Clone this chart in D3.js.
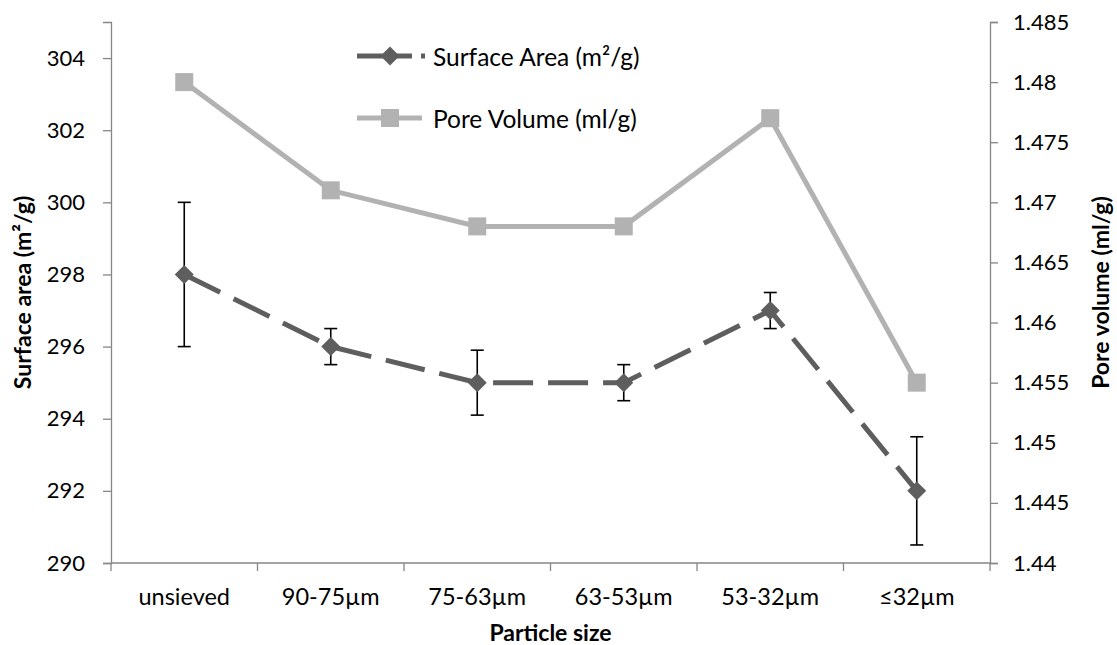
<!DOCTYPE html>
<html>
<head>
<meta charset="utf-8">
<script src="https://cdn.jsdelivr.net/npm/d3@7"></script>
<style>
  html, body { margin: 0; padding: 0; background: #fff; }
  svg text { font-family: Lato, "Open Sans", sans-serif; fill: #000; }
</style>
</head>
<body>
<svg id="chart" width="1117" height="645"></svg>
<script>
// Particle size fractions
const categories = ["unsieved", "90-75\u00b5m", "75-63\u00b5m", "63-53\u00b5m", "53-32\u00b5m", "\u226432\u00b5m"];
// BET surface area (m²/g) with error bar half-widths
const surfaceArea = [298, 296, 295, 295, 297, 292];
const surfaceAreaErr = [2, 0.5, 0.9, 0.5, 0.5, 1.5];
// Pore volume (ml/g)
const poreVolume = [1.48, 1.471, 1.468, 1.468, 1.477, 1.455];
// Axis ticks
const leftTicks = [290, 292, 294, 296, 298, 300, 302, 304];
const rightTicks = [1.44, 1.445, 1.45, 1.455, 1.46, 1.465, 1.47, 1.475, 1.48, 1.485];

const svg = d3.select("#chart");
const plot = { left: 111, right: 990, top: 22, bottom: 563 };

const x = d3.scaleBand().domain(categories).range([plot.left, plot.right]);
const yL = d3.scaleLinear().domain([290, 305]).range([plot.bottom, plot.top]);
const yR = d3.scaleLinear().domain([1.44, 1.485]).range([plot.bottom, plot.top]);
const cx = c => x(c) + x.bandwidth() / 2;

const axisColor = "#868686";
const darkSeries = "#5e5e5e";
const lightSeries = "#b2b2b2";
const font = "Lato, 'Open Sans', sans-serif";

// Left axis
const gL = svg.append("g").attr("transform", `translate(${plot.left},0)`)
  .call(d3.axisLeft(yL).tickValues(leftTicks).tickSize(8).tickPadding(18).tickFormat(d3.format("d")));
// Right axis
const gR = svg.append("g").attr("transform", `translate(${plot.right},0)`)
  .call(d3.axisRight(yR).tickValues(rightTicks).tickSize(8).tickPadding(15).tickFormat(d => String(+d.toFixed(3))));
// Bottom axis, ticks at category boundaries
const gB = svg.append("g").attr("transform", `translate(0,${plot.bottom})`)
  .call(d3.axisBottom(x).tickSize(0));
const bounds = categories.map(c => x(c)).concat([x(categories[categories.length - 1]) + x.bandwidth()]);
gB.selectAll(".boundary").data(bounds).join("line").attr("class", "boundary")
  .attr("x1", d => d).attr("x2", d => d).attr("y1", 0).attr("y2", 8);

[gL, gR, gB].forEach(g => {
  g.select(".domain").attr("stroke", axisColor).attr("stroke-width", 1.3);
  g.selectAll(".tick line, .boundary").attr("stroke", axisColor).attr("stroke-width", 1.3);
  g.selectAll(".tick text").attr("font-size", 22).attr("fill", "#000").style("font-family", font);
});
gB.select(".domain").attr("d", `M${plot.left},0H${plot.right}`);
gB.selectAll(".tick text").attr("font-size", 23.5).attr("dy", null).attr("y", 42);

// Axis titles
svg.append("text")
  .attr("transform", `translate(22,${(plot.top + plot.bottom) / 2}) rotate(-90)`)
  .attr("text-anchor", "middle").attr("dominant-baseline", "central")
  .attr("font-size", 23).attr("font-weight", "bold")
  .text("Surface area (m\u00b2/g)");
svg.append("text")
  .attr("transform", `translate(1100,${(plot.top + plot.bottom) / 2}) rotate(-90)`)
  .attr("text-anchor", "middle").attr("dominant-baseline", "central")
  .attr("font-size", 23).attr("font-weight", "bold")
  .text("Pore volume (ml/g)");
svg.append("text")
  .attr("x", (plot.left + plot.right) / 2).attr("y", 641)
  .attr("text-anchor", "middle")
  .attr("font-size", 23).attr("font-weight", "bold")
  .text("Particle size");

// Error bars for surface area
const eb = svg.append("g").attr("stroke", "#000").attr("stroke-width", 1.6);
categories.forEach((c, i) => {
  const top = yL(surfaceArea[i] + surfaceAreaErr[i]);
  const bot = yL(surfaceArea[i] - surfaceAreaErr[i]);
  eb.append("line").attr("x1", cx(c)).attr("x2", cx(c)).attr("y1", top).attr("y2", bot);
  eb.append("line").attr("x1", cx(c) - 6.5).attr("x2", cx(c) + 6.5).attr("y1", top).attr("y2", top);
  eb.append("line").attr("x1", cx(c) - 6.5).attr("x2", cx(c) + 6.5).attr("y1", bot).attr("y2", bot);
});

// Surface area series: long-dashed line with diamond markers
const saLine = d3.line().x((d, i) => cx(categories[i])).y(d => yL(d));
svg.append("path").datum(surfaceArea)
  .attr("d", saLine).attr("fill", "none")
  .attr("stroke", darkSeries).attr("stroke-width", 5)
  .attr("stroke-dasharray", "40,15");
svg.append("g").selectAll("path").data(surfaceArea).join("path")
  .attr("d", d3.symbol().type(d3.symbolSquare).size(180))
  .attr("transform", (d, i) => `translate(${cx(categories[i])},${yL(d)}) rotate(45)`)
  .attr("fill", darkSeries);

// Pore volume series: solid line with square markers
const pvLine = d3.line().x((d, i) => cx(categories[i])).y(d => yR(d));
svg.append("path").datum(poreVolume)
  .attr("d", pvLine).attr("fill", "none")
  .attr("stroke", lightSeries).attr("stroke-width", 5);
svg.append("g").selectAll("rect").data(poreVolume).join("rect")
  .attr("x", (d, i) => cx(categories[i]) - 9).attr("y", d => yR(d) - 9)
  .attr("width", 18).attr("height", 18)
  .attr("fill", lightSeries);

// Legend
const legend = svg.append("g");
legend.append("line").attr("x1", 357).attr("x2", 425).attr("y1", 56).attr("y2", 56)
  .attr("stroke", darkSeries).attr("stroke-width", 5).attr("stroke-dasharray", "55,9");
legend.append("path").attr("d", d3.symbol().type(d3.symbolSquare).size(180))
  .attr("transform", "translate(390,56) rotate(45)").attr("fill", darkSeries);
legend.append("text").attr("x", 433).attr("y", 56).attr("dominant-baseline", "central")
  .attr("font-size", 24.5).text("Surface Area (m\u00b2/g)");
legend.append("line").attr("x1", 357).attr("x2", 422).attr("y1", 118).attr("y2", 118)
  .attr("stroke", lightSeries).attr("stroke-width", 5);
legend.append("rect").attr("x", 381).attr("y", 109).attr("width", 18).attr("height", 18)
  .attr("fill", lightSeries);
legend.append("text").attr("x", 433).attr("y", 118).attr("dominant-baseline", "central")
  .attr("font-size", 24.5).text("Pore Volume (ml/g)");
</script>
</body>
</html>
